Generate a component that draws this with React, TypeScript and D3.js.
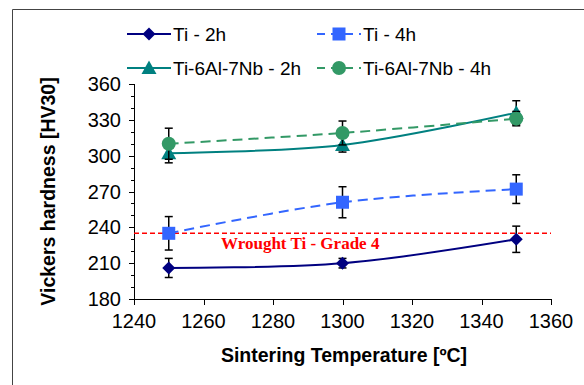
import React from "react";
import * as d3 from "d3";

const temps = [1250, 1300, 1350];
const ti2h = [206, 210, 230];
const ti2hErr = [8, 4, 11];
const ti4h = [235, 261, 272];
const ti4hErr = [14, 13, 12];
const tiAl2h = [302, 309, 336];
const tiAl2hErr = [8, 6, 10];
const tiAl4h = [310, 319, 331];
const tiAl4hErr = [13, 10, 6];
const wroughtTi = 235;
const xTicks = [1240, 1260, 1280, 1300, 1320, 1340, 1360];
const yTicks = [180, 210, 240, 270, 300, 330, 360];

const W = 584;
const H = 385;
const margin = { left: 134, right: 33, top: 84, bottom: 86 };

const font = "Arial, 'Liberation Sans', sans-serif";

function Marker({ shape, x, y, color }: { shape: string; x: number; y: number; color: string }) {
  if (shape === "diamond") {
    const r = 6.5;
    return <path d={`M${x},${y - r}L${x + r},${y}L${x},${y + r}L${x - r},${y}Z`} fill={color} />;
  }
  if (shape === "square") {
    return <rect x={x - 6.5} y={y - 6.5} width={13} height={13} fill={color} />;
  }
  if (shape === "triangle") {
    return <path d={`M${x},${y - 7.5}L${x + 7.5},${y + 6}L${x - 7.5},${y + 6}Z`} fill={color} />;
  }
  return <circle cx={x} cy={y} r={7} fill={color} />;
}

export default function App() {
  const x = d3.scaleLinear().domain([1240, 1360]).range([margin.left, W - margin.right]);
  const y = d3.scaleLinear().domain([180, 360]).range([H - margin.bottom, margin.top]);
  const minor = d3.range(180, 361, 10);

  const line = d3
    .line<number>()
    .x((d, i) => x(temps[i]))
    .y(d => y(d))
    .curve(d3.curveCatmullRom.alpha(0.5));

  const series = [
    { name: "Ti - 2h", data: ti2h, err: ti2hErr, color: "#000080", dash: "", shape: "diamond" },
    { name: "Ti - 4h", data: ti4h, err: ti4hErr, color: "#3366FF", dash: "10,6", shape: "square" },
    { name: "Ti-6Al-7Nb - 2h", data: tiAl2h, err: tiAl2hErr, color: "#008080", dash: "", shape: "triangle" },
    { name: "Ti-6Al-7Nb - 4h", data: tiAl4h, err: tiAl4hErr, color: "#339966", dash: "10,6", shape: "circle" },
  ];
  const legendPos = [
    { x: 127, y: 34 },
    { x: 317, y: 34 },
    { x: 127, y: 68 },
    { x: 317, y: 68 },
  ];

  const x0 = margin.left;
  const y0 = H - margin.bottom;

  return (
    <svg width={W} height={H} style={{ position: "absolute", left: 0, top: 0 }} fontFamily={font}>
      <rect width={W} height={H} fill="#fff" />
      {/* outer frame */}
      <path d={`M12.5,${H}V9.5H${W}`} fill="none" stroke="#444" strokeWidth={1} />

      {/* y axis */}
      <line x1={x0 + 0.5} x2={x0 + 0.5} y1={y(360)} y2={y0} stroke="#000" />
      {minor.map(v => (
        <line key={"m" + v} x1={x0 - 3} x2={x0} y1={Math.round(y(v)) + 0.5} y2={Math.round(y(v)) + 0.5} stroke="#000" />
      ))}
      {yTicks.map(v => (
        <g key={"y" + v}>
          <line x1={x0 - 5} x2={x0} y1={Math.round(y(v)) + 0.5} y2={Math.round(y(v)) + 0.5} stroke="#000" />
          <text x={x0 - 13} y={y(v)} dy="0.35em" textAnchor="end" fontSize={20} fill="#000">
            {v}
          </text>
        </g>
      ))}

      {/* x axis */}
      <line x1={x0} x2={x(1360)} y1={y0 + 0.5} y2={y0 + 0.5} stroke="#000" />
      {xTicks.map(v => (
        <g key={"x" + v}>
          <line x1={Math.round(x(v)) + 0.5} x2={Math.round(x(v)) + 0.5} y1={y0} y2={y0 + 6} stroke="#000" />
          <text x={x(v)} y={y0 + 29} textAnchor="middle" fontSize={20} fill="#000">
            {v}
          </text>
        </g>
      ))}

      {/* reference line */}
      <line x1={x0} x2={x(1360)} y1={y(wroughtTi)} y2={y(wroughtTi)} stroke="#FF0000" strokeWidth={1.6} strokeDasharray="5,3" />
      <text x={221} y={249} fontFamily="'Liberation Serif', 'Times New Roman', serif" fontWeight="bold" fontSize={17} fill="#FF0000">
        Wrought Ti - Grade 4
      </text>

      {/* series */}
      {series.map(s => (
        <g key={s.name}>
          <path d={line(s.data) || ""} fill="none" stroke={s.color} strokeWidth={2} strokeDasharray={s.dash} />
          {s.data.map((v, i) => {
            const cx = x(temps[i]);
            const top = y(v + s.err[i]);
            const bot = y(v - s.err[i]);
            return (
              <g key={i} stroke="#000" strokeWidth={1.5}>
                <line x1={cx} x2={cx} y1={top} y2={bot} />
                <line x1={cx - 4} x2={cx + 4} y1={top} y2={top} />
                <line x1={cx - 4} x2={cx + 4} y1={bot} y2={bot} />
              </g>
            );
          })}
          {s.data.map((v, i) => (
            <Marker key={"mk" + i} shape={s.shape} x={x(temps[i])} y={y(v)} color={s.color} />
          ))}
        </g>
      ))}

      {/* legend */}
      {series.map((s, i) => {
        const p = legendPos[i];
        return (
          <g key={"lg" + i}>
            <line x1={p.x} x2={p.x + 44} y1={p.y} y2={p.y} stroke={s.color} strokeWidth={2} strokeDasharray={s.dash ? "8,6" : ""} />
            <Marker shape={s.shape} x={p.x + 22} y={p.y} color={s.color} />
            <text x={p.x + 46} y={p.y} dy="0.35em" fontSize={19} fill="#000">
              {s.name}
            </text>
          </g>
        );
      })}

      {/* axis titles */}
      <text x={344} y={362} textAnchor="middle" fontSize={19.5} fontWeight="bold" fill="#000">
        Sintering Temperature [ºC]
      </text>
      <text transform={`translate(55,${(y(360) + y0) / 2}) rotate(-90)`} textAnchor="middle" fontSize={19.5} fontWeight="bold" fill="#000">
        Vickers hardness [HV30]
      </text>
    </svg>
  );
}
